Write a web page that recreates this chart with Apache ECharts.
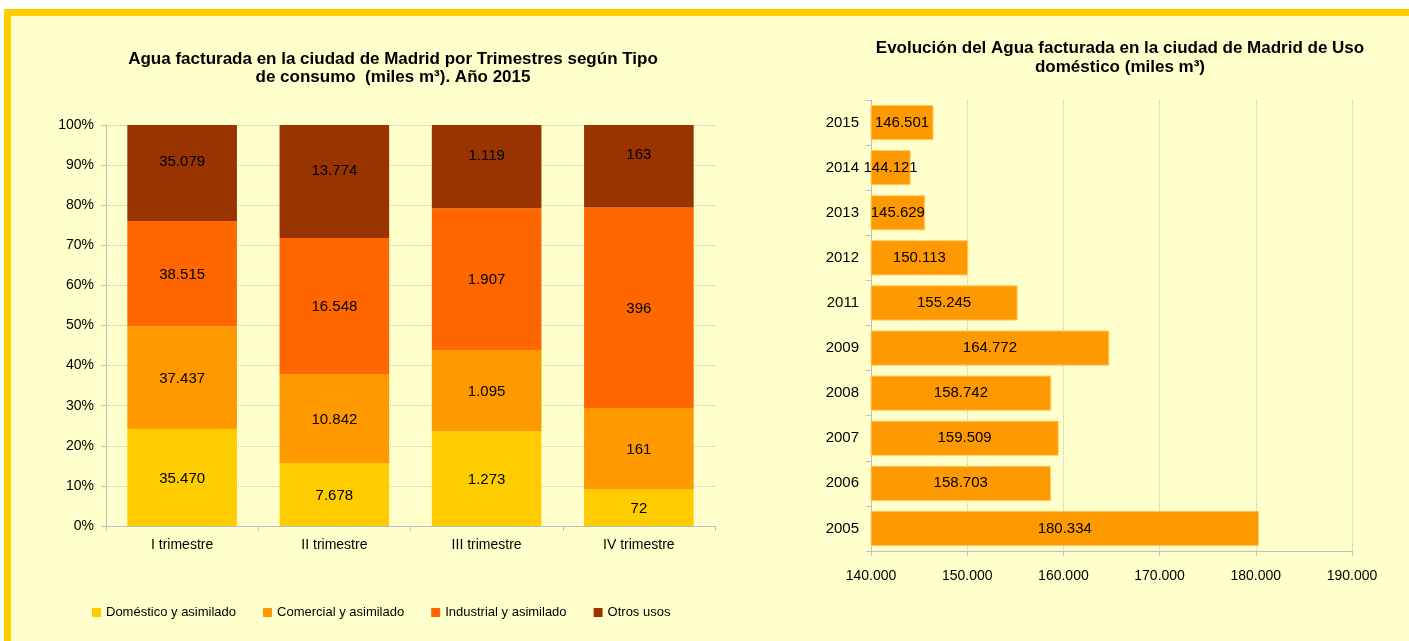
<!DOCTYPE html>
<html><head><meta charset="utf-8">
<script src="https://cdn.jsdelivr.net/npm/echarts@6/dist/echarts.min.js"></script>
<style>
html,body{margin:0;padding:0;background:#fff;width:1409px;height:641px;overflow:hidden;}
#bg{position:absolute;left:4px;top:9px;width:1405px;height:632px;background:#FFFFCC;border-top:7px solid #FFCC00;border-left:7px solid #FFCC00;box-sizing:border-box;}
#chart{position:absolute;left:0;top:0;width:1409px;height:641px;}
</style></head>
<body><div id="bg"></div><div id="chart"></div>
<script>
var quarters = ['I trimestre','II trimestre','III trimestre','IV trimestre'];
var seriesNames = ['Doméstico y asimilado','Comercial y asimilado','Industrial y asimilado','Otros usos'];
var domestico = [35470, 7678, 1273, 72];
var comercial = [37437, 10842, 1095, 161];
var industrial = [38515, 16548, 1907, 396];
var otros = [35079, 13774, 1119, 163];
var years = ['2005','2006','2007','2008','2009','2011','2012','2013','2014','2015'];
var domesticoAnual = [180334, 158703, 159509, 158742, 164772, 155245, 150113, 145629, 144121, 146501];
var pctTicks = [0,10,20,30,40,50,60,70,80,90,100];

function fmt(v){ return String(Math.round(v)).replace(/\B(?=(\d{3})+(?!\d))/g,'.'); }
var raw = [domestico, comercial, industrial, otros];
var totals = quarters.map(function(_,i){ return domestico[i]+comercial[i]+industrial[i]+otros[i]; });
var colors = ['#FFCC00','#FF9900','#FF6600','#993300'];
var font = 'Liberation Sans, Arial, sans-serif';

var stackSeries = raw.map(function(arr, s){
  return {
    name: seriesNames[s], type:'bar', stack:'t', xAxisIndex:0, yAxisIndex:0,
    barCategoryGap:'28%',
    itemStyle:{color:colors[s]},
    label:{show:true, position:'inside', color:'#000', fontSize:15, fontFamily:font,
      offset: s === 3 ? [0,-11] : [0,1],
      formatter:function(p){ return fmt(arr[p.dataIndex]); }},
    data: arr.map(function(v,i){ return v/totals[i]*100; })
  };
});

var chart = echarts.init(document.getElementById('chart'), null, {renderer:'canvas'});
chart.setOption({
  backgroundColor:'transparent',
  animation:false,
  textStyle:{fontFamily:font},
  title:[
    {text:'Agua facturada en la ciudad de Madrid por Trimestres según Tipo\nde consumo  (miles m³). Año 2015', left:388, top:45, textAlign:'center',
     textStyle:{fontSize:17, fontWeight:'bold', color:'#000', lineHeight:18, fontFamily:font}},
    {text:'Evolución del Agua facturada en la ciudad de Madrid de Uso\ndoméstico (miles m³)', left:1115, top:34, textAlign:'center',
     textStyle:{fontSize:17, fontWeight:'bold', color:'#000', lineHeight:19, fontFamily:font}}
  ],
  legend:{data:seriesNames, left:87, top:601, itemWidth:9, itemHeight:9, itemGap:27,
    icon:'rect', textStyle:{fontSize:13, color:'#000', fontFamily:font}},
  grid:[
    {left:106, top:125, width:609, height:401},
    {left:871, top:100, width:481, height:451}
  ],
  xAxis:[
    {type:'category', gridIndex:0, data:quarters,
     axisLine:{lineStyle:{color:'#BFBFBF'}}, axisTick:{show:true, lineStyle:{color:'#BFBFBF'}},
     axisLabel:{fontSize:14, color:'#000', margin:12}},
    {type:'value', gridIndex:1, min:140000, max:190000, interval:10000,
     axisLine:{show:true, lineStyle:{color:'#BFBFBF'}}, axisTick:{show:true, lineStyle:{color:'#BFBFBF'}},
     splitLine:{show:true, lineStyle:{color:'#BFBFBF', type:'dotted'}},
     axisLabel:{fontSize:14, color:'#000', margin:18, formatter:function(v){return fmt(v);}}}
  ],
  yAxis:[
    {type:'value', gridIndex:0, min:0, max:100, interval:10,
     axisLine:{show:true, lineStyle:{color:'#BFBFBF'}}, axisTick:{show:true, lineStyle:{color:'#BFBFBF'}},
     splitLine:{show:true, lineStyle:{color:'#BFBFBF', type:'dotted'}},
     axisLabel:{fontSize:14, color:'#000', margin:12, formatter:'{value}%'}},
    {type:'category', gridIndex:1, data:years,
     axisLine:{show:true, lineStyle:{color:'#BFBFBF'}}, axisTick:{show:true, lineStyle:{color:'#BFBFBF'}},
     axisLabel:{fontSize:15, color:'#000', margin:12}}
  ],
  series: stackSeries.concat([{
    name:'Doméstico anual', type:'bar', xAxisIndex:1, yAxisIndex:1, barCategoryGap:'22%',
    itemStyle:{color:'#FF9900', borderColor:'#FFCC66', borderWidth:1},
    label:{show:true, position:'inside', color:'#000', fontSize:15, fontFamily:font,
      formatter:function(p){ return fmt(p.value); }},
    data: domesticoAnual
  }])
});
</script></body></html>
